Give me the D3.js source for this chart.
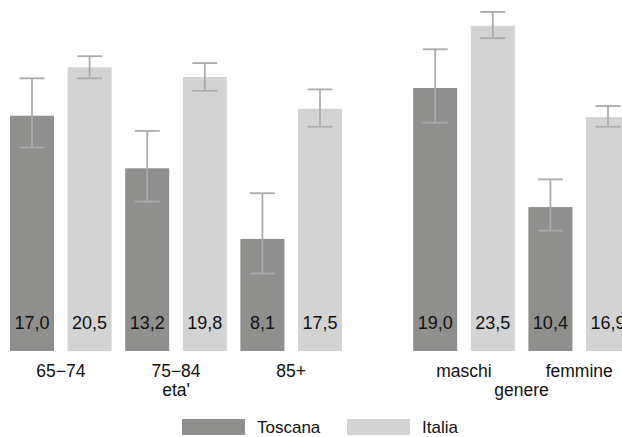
<!DOCTYPE html>
<html><head><meta charset="utf-8">
<script src="https://cdn.jsdelivr.net/npm/d3@7"></script>
<style>
body{margin:0;background:#fff;}
svg{display:block;font-family:"Liberation Sans",Arial,Helvetica,sans-serif;}
</style></head>
<body>
<svg id="chart" width="622" height="437"></svg>
<script>
const categories = ["65\u221274","75\u221284","85+","maschi","femmine"];
const groupOf = ["eta'","eta'","eta'","genere","genere"];
const groupTitles = ["eta'","genere"];
const seriesNames = ["Toscana","Italia"];
const toscana = [17.0, 13.2, 8.1, 19.0, 10.4];
const italia = [20.5, 19.8, 17.5, 23.5, 16.9];
const toscanaLow = [14.7, 10.8, 5.6, 16.5, 8.7];
const toscanaHigh = [19.7, 15.9, 11.4, 21.8, 12.4];
const italiaLow = [19.7, 18.8, 16.2, 22.6, 16.2];
const italiaHigh = [21.3, 20.8, 18.9, 24.5, 17.7];
const labels = {Toscana:["17,0","13,2","8,1","19,0","10,4"], Italia:["20,5","19,8","17,5","23,5","16,9"]};
const colors = {Toscana:"#8f8f8e", Italia:"#d3d3d3"};

const svg = d3.select("#chart");

const slots = [];
categories.forEach((c,i)=>{
  if(i>0 && groupOf[i]!==groupOf[i-1]) slots.push("gap"+i);
  seriesNames.forEach(s=>slots.push(c+"|"+s));
});
const x = d3.scaleBand().domain(slots).range([10,630]).paddingInner(0.236).paddingOuter(0);
const y = d3.scaleLinear().domain([0,25]).range([351,5]);

const bars = [];
categories.forEach((c,i)=>{
  bars.push({cat:c, s:"Toscana", v:toscana[i], lo:toscanaLow[i], hi:toscanaHigh[i], lab:labels.Toscana[i]});
  bars.push({cat:c, s:"Italia", v:italia[i], lo:italiaLow[i], hi:italiaHigh[i], lab:labels.Italia[i]});
});

const g = svg.append("g");
g.selectAll("rect.bar").data(bars).join("rect")
  .attr("class","bar")
  .attr("x",d=>x(d.cat+"|"+d.s))
  .attr("width",x.bandwidth())
  .attr("y",d=>y(d.v))
  .attr("height",d=>y(0)-y(d.v))
  .attr("fill",d=>colors[d.s]);

const eb = g.selectAll("g.eb").data(bars).join("g").attr("class","eb")
  .attr("stroke","#ababab").attr("stroke-width",1.8);
const cx = d=>x(d.cat+"|"+d.s)+x.bandwidth()/2;
eb.append("line").attr("x1",cx).attr("x2",cx).attr("y1",d=>y(d.lo)).attr("y2",d=>y(d.hi));
eb.append("line").attr("x1",d=>cx(d)-12.5).attr("x2",d=>cx(d)+12.5).attr("y1",d=>y(d.lo)).attr("y2",d=>y(d.lo));
eb.append("line").attr("x1",d=>cx(d)-12.5).attr("x2",d=>cx(d)+12.5).attr("y1",d=>y(d.hi)).attr("y2",d=>y(d.hi));

g.selectAll("text.val").data(bars).join("text")
  .attr("class","val")
  .attr("x",cx).attr("y",y(0)-22)
  .attr("text-anchor","middle").attr("font-size",18).attr("fill","#111")
  .text(d=>d.lab);

g.selectAll("text.cat").data(categories).join("text")
  .attr("class","cat")
  .attr("x",c=>(x(c+"|Toscana")+x(c+"|Italia")+x.bandwidth())/2)
  .attr("y",377).attr("text-anchor","middle").attr("font-size",17.5).attr("fill","#111")
  .text(c=>c);

g.selectAll("text.grp").data(groupTitles).join("text")
  .attr("class","grp")
  .attr("x",t=>{
    const cs = categories.filter((c,i)=>groupOf[i]===t);
    return (x(cs[0]+"|Toscana") + x(cs[cs.length-1]+"|Italia") + x.bandwidth())/2;
  })
  .attr("y",396).attr("text-anchor","middle").attr("font-size",17.5).attr("fill","#111")
  .text(t=>t);

const legendX = [182, 347];
const lg = svg.selectAll("g.lg").data(seriesNames).join("g").attr("class","lg")
  .attr("transform",(d,i)=>`translate(${legendX[i]},419)`);
lg.append("rect").attr("width",63).attr("height",16).attr("fill",d=>colors[d]);
lg.append("text").attr("x",75).attr("y",14).attr("font-size",17).attr("fill","#111").text(d=>d);
</script>
</body></html>
